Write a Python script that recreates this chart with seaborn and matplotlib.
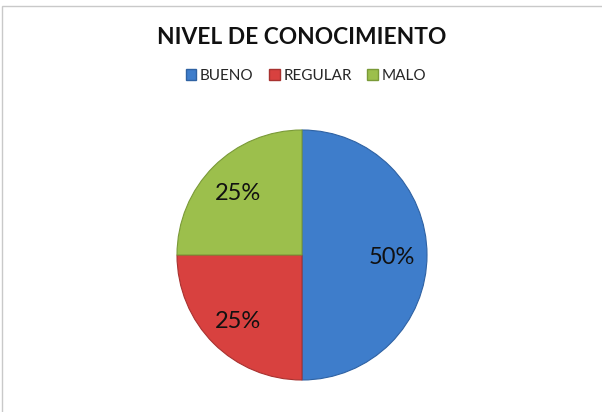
import matplotlib
matplotlib.use("Agg")
import matplotlib.pyplot as plt
import seaborn as sns
from matplotlib.patches import Rectangle, Patch

categories = ["BUENO", "REGULAR", "MALO"]
values = [50, 25, 25]
colors = ["#3E7DCB", "#D8413F", "#9CBF4C"]
edge_colors = ["#2F62A3", "#A83230", "#7A9A38"]
title = "NIVEL DE CONOCIMIENTO"

sns.set_theme(style="white")
plt.rcParams["font.family"] = ["Lato", "DejaVu Sans"]

fig = plt.figure(figsize=(6.02, 4.12), dpi=100)
fig.patch.set_facecolor("white")

# outer chart frame (only top and left edges visible)
fig.patches.append(Rectangle((2 / 602, -0.1), 1.2, (412 - 6) / 412 + 0.1,
                             transform=fig.transFigure, fill=False,
                             edgecolor="#c9c9c9", linewidth=1.0))

ax = fig.add_axes([177 / 602, (412 - 380) / 412, 250 / 602, 250 / 412])
wedges, texts, autotexts = ax.pie(
    values, colors=colors, startangle=90, counterclock=False,
    autopct=lambda p: f"{p:.0f}%", pctdistance=0.72,
    textprops=dict(fontsize=17, color="#111111"),
    wedgeprops=dict(linewidth=0.8),
)
for w, ec in zip(wedges, edge_colors):
    w.set_edgecolor(ec)
for t in autotexts:
    x, y = t.get_position()
    t.set_position((x, y - 0.02))
ax.set_xlim(-1.0, 1.0)
ax.set_ylim(-1.0, 1.0)
ax.set_aspect("equal")

fig.text(302 / 602, 1 - 37 / 412, title, ha="center", va="center",
         fontsize=16.4, fontweight="bold", color="#111111")

handles = [Patch(facecolor=c, edgecolor=e, label=l)
           for c, e, l in zip(colors, edge_colors, categories)]
fig.legend(handles=handles, loc="center", bbox_to_anchor=(306 / 602, 1 - 76 / 412),
           ncol=3, frameon=False, fontsize=11, handlelength=0.7, handleheight=0.7,
           handletextpad=0.25, columnspacing=1.0)

fig.savefig("out.png", dpi=100)
